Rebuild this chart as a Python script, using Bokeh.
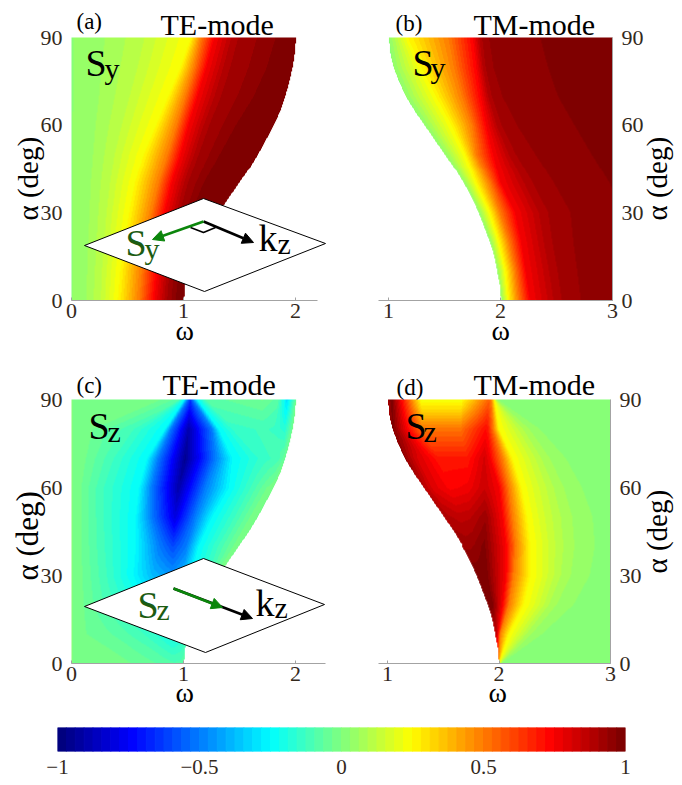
import numpy as np
from bokeh.embed import file_html
from bokeh.layouts import column, row
from bokeh.models import Arrow, FixedTicker, Label, LinearColorMapper, NormalHead, Range1d
from bokeh.plotting import figure
from bokeh.resources import INLINE

ALPHA_ROWS = [0, 10, 20, 30, 40, 50, 60, 70, 80, 90]
EDGE_ALPHA = [0, 5, 10, 15, 20, 25, 30, 35, 40, 45, 50, 55, 60, 65, 70, 75, 80, 85, 90]
TE_EDGE = [1.0, 1.01, 1.04, 1.09, 1.15, 1.23, 1.31, 1.40, 1.49, 1.58, 1.66, 1.73, 1.80, 1.86, 1.905, 1.94, 1.97, 1.99, 2.0]
TM_EDGE = [2.0, 1.99, 1.965, 1.94, 1.90, 1.85, 1.80, 1.74, 1.67, 1.59, 1.50, 1.41, 1.32, 1.23, 1.15, 1.09, 1.04, 1.01, 1.0]

# Panel (a): colour level positions along omega, one row per alpha
A_VALUES = [.03, .06, .12, .25, .5, .75, .9, .99, 1.0]
A_OMEGA = [
    [0, .12, .25, .41, .60, .735, .84, .95, 1.0],
    [0, .13, .26, .43, .62, .76, .86, .98, 1.04],
    [0, .14, .28, .47, .66, .79, .90, 1.02, 1.15],
    [0, .15, .30, .51, .71, .83, .95, 1.1, 1.31],
    [0, .16, .33, .56, .77, .89, 1.02, 1.22, 1.49],
    [0, .18, .37, .64, .85, .97, 1.11, 1.38, 1.66],
    [0, .2, .43, .75, .93, 1.04, 1.2, 1.54, 1.80],
    [0, .23, .5, .86, 1.01, 1.12, 1.3, 1.72, 1.905],
    [0, .25, .57, .97, 1.09, 1.2, 1.38, 1.85, 1.97],
    [0, .28, .63, 1.06, 1.15, 1.27, 1.45, 1.93, 2.0],
]
# Panel (b)
B_VALUES = [.03, .25, .5, .75, .9, .95, .97]
B_OMEGA = [
    [2.0, 2.065, 2.155, 2.26, 2.51, 2.78, 3.4],
    [1.965, 2.04, 2.125, 2.22, 2.47, 2.75, 3.3],
    [1.90, 1.98, 2.07, 2.18, 2.42, 2.72, 3.2],
    [1.80, 1.90, 1.99, 2.125, 2.38, 2.7, 3.1],
    [1.67, 1.78, 1.90, 2.0, 2.25, 2.55, 3.0],
    [1.50, 1.68, 1.78, 1.93, 2.1, 2.38, 2.84],
    [1.32, 1.56, 1.74, 1.87, 1.98, 2.2, 2.69],
    [1.15, 1.42, 1.65, 1.82, 1.9, 2.05, 2.54],
    [1.04, 1.29, 1.58, 1.78, 1.85, 1.96, 2.45],
    [1.0, 1.17, 1.53, 1.75, 1.82, 1.92, 2.38],
]
# Panel (c)
C_OMEGA = [
    [0, .45, .65, .8, .85, .9, .95, 1.0, 1.02, 1.04, 1.06, 1.08, 1.1],
    [0, .12, .4, .62, .8, .9, 1.0, 1.03, 1.06, 1.1, 1.12, 1.14, 1.16],
    [0, .1, .3, .55, .72, .9, 1.02, 1.1, 1.15, 1.2, 1.22, 1.24, 1.26],
    [0, .09, .3, .55, .72, .9, 1.0, 1.06, 1.22, 1.28, 1.31, 1.33, 1.35],
    [0, .08, .28, .57, .78, .9, 1.02, 1.13, 1.31, 1.44, 1.47, 1.5, 1.52],
    [0, .08, .27, .57, .71, .92, 1.10, 1.25, 1.46, 1.59, 1.62, 1.65, 1.68],
    [0, .08, .27, .6, .71, .95, 1.19, 1.4, 1.6, 1.74, 1.77, 1.8, 1.82],
    [0, .12, .36, .67, .77, 1.01, 1.28, 1.43, 1.7, 1.8, 1.85, 1.89, 1.92],
    [0, .18, .54, .83, .88, 1.04, 1.25, 1.31, 1.45, 1.7, 1.8, 1.9, 1.97],
    [0, .75, .95, 1.0, 1.03, 1.055, 1.08, 1.12, 1.2, 1.7, 1.84, 1.92, 2.0],
]
C_VALUES = [
    [0, -.02, -.05, -.07, -.08, -.09, -.09, -.08, -.05, -.02, 0, 0, 0],
    [0, -.03, -.07, -.12, -.18, -.22, -.18, -.1, -.05, -.02, 0, 0, 0],
    [0, -.03, -.1, -.18, -.25, -.35, -.25, -.12, -.05, -.02, 0, 0, 0],
    [0, -.03, -.12, -.25, -.38, -.45, -.38, -.25, -.12, -.03, 0, 0, 0],
    [0, -.03, -.12, -.25, -.5, -.6, -.5, -.25, -.12, -.03, -.01, 0, 0],
    [0, -.03, -.12, -.25, -.5, -.8, -.5, -.25, -.12, -.03, -.02, -.01, 0],
    [0, -.03, -.12, -.25, -.5, -.9, -.5, -.25, -.12, -.03, -.02, -.01, 0],
    [0, -.03, -.12, -.25, -.5, -.95, -.5, -.25, -.14, -.12, -.1, -.05, -.01],
    [0, -.03, -.12, -.25, -.5, -.9, -.5, -.25, -.14, -.12, -.13, -.17, -.02],
    [0, -.02, -.08, -.25, -.5, -.65, -.5, -.25, -.08, -.03, -.08, -.3, -.03],
]
# Panel (d)
D_OMEGA = [
    [1.95, 1.96, 1.97, 1.98, 1.99, 1.995, 1.998, 2.0, 2.005, 2.01, 2.02, 2.03, 3.2],
    [1.96, 1.965, 1.97, 1.975, 1.98, 1.99, 2.01, 2.09, 2.14, 2.2, 2.27, 2.42, 3.2],
    [1.90, 1.91, 1.92, 1.93, 1.95, 2.03, 2.09, 2.22, 2.3, 2.38, 2.48, 2.72, 3.2],
    [1.80, 1.81, 1.83, 1.85, 1.88, 2.06, 2.13, 2.28, 2.37, 2.46, 2.6, 2.87, 3.2],
    [1.67, 1.70, 1.74, 1.78, 1.87, 2.06, 2.15, 2.28, 2.37, 2.47, 2.63, 2.92, 3.2],
    [1.50, 1.55, 1.64, 1.74, 1.88, 2.03, 2.12, 2.25, 2.33, 2.44, 2.61, 2.9, 3.2],
    [1.32, 1.4, 1.55, 1.72, 1.87, 2.0, 2.09, 2.2, 2.28, 2.39, 2.54, 2.8, 3.2],
    [1.15, 1.25, 1.45, 1.72, 1.87, 1.92, 2.03, 2.12, 2.2, 2.3, 2.42, 2.65, 3.2],
    [1.03, 1.05, 1.3, 1.65, 1.88, 1.9, 1.95, 2.0, 2.07, 2.15, 2.25, 2.4, 3.2],
    [1.0, 1.03, 1.3, 1.65, 1.91, 1.92, 1.93, 1.96, 1.965, 1.97, 1.98, 2.0, 3.2],
]
D_VALUES = [
    [.5, .5, .5, .5, .5, .5, .45, .25, .2, .14, .07, .02, 0],
    [.85, .85, .85, .85, .85, .75, .5, .25, .2, .14, .07, .02, 0],
    [1, 1, 1, 1, .97, .75, .5, .25, .2, .14, .07, .02, 0],
    [1, 1, 1, 1, 1, .75, .5, .25, .2, .14, .07, .02, 0],
    [.93, .93, .93, .94, .98, .75, .5, .25, .2, .14, .07, .02, 0],
    [.9, .88, .86, .87, .93, .75, .5, .25, .2, .14, .07, .02, 0],
    [.88, .8, .74, .76, .84, .75, .5, .25, .2, .14, .07, .02, 0],
    [.95, .82, .7, .7, .82, .75, .5, .25, .2, .14, .07, .02, 0],
    [.97, .97, .52, .52, .72, .7, .5, .25, .2, .14, .07, .02, 0],
    [.9, 1, .22, .22, .55, .52, .5, .25, .2, .14, .07, .02, 0],
]
CBAR_TICKS = [-1, -0.5, 0, 0.5, 1]
CBAR_LABELS = ["−1", "−0.5", "0", "0.5", "1"]
OMEGA_TICKS_TE = [0, 1, 2]
OMEGA_TICKS_TM = [1, 2, 3]
ALPHA_TICKS = [0, 30, 60, 90]

SERIF = "Liberation Serif"
INK = "#33291c"
GREY = "#a3a3a3"
TEXT_GREEN = "#1c5c12"
ARROW_GREEN = "#0b860b"


def jet(t):
    c = lambda k: int(255 * np.clip(1.5 - abs(4 * t - k), 0, 1))
    return "#%02x%02x%02x" % (c(3), c(2), c(1))


PALETTE = [jet(i / 63) for i in range(64)]
mapper = LinearColorMapper(palette=PALETTE, low=-1, high=1, nan_color="rgba(0,0,0,0)")


def shade(omega, values, edge, x0, x1, allowed_right):
    """Colour field spanned by the read level positions, masked at the mode's edge."""
    w = np.array(omega, float)
    v = np.array(values, float)
    if v.ndim == 1:
        v = np.tile(v, (w.shape[0], 1))
    xs = np.linspace(x0, x1, int((x1 - x0) * 112) + 1)
    alphas = np.linspace(0, 90, 264)
    z = np.zeros((alphas.size, xs.size))
    for i, a in enumerate(alphas):
        wk = [np.interp(a, ALPHA_ROWS, w[:, k]) for k in range(w.shape[1])]
        vk = [np.interp(a, ALPHA_ROWS, v[:, k]) for k in range(w.shape[1])]
        z[i] = np.interp(xs, wk, vk)
        b = np.interp(a, EDGE_ALPHA, edge)
        z[i][(xs > b) if allowed_right else (xs < b)] = np.nan
    return z


class Panel:
    """A figure whose frame fills its whole canvas, so that texts beyond the axes stay visible."""

    def __init__(self, rect, px_per_omega, omega_px, omega_ref, top, bottom, loc):
        fx, fy, w, h = rect
        self.s = px_per_omega
        self.px0 = omega_px
        self.w0 = omega_ref
        self.T = top
        self.B = bottom
        xr = Range1d(self.at(fx, 0)[0], self.at(fx + w, 0)[0])
        yr = Range1d(self.at(0, fy + h)[1], self.at(0, fy)[1])
        self.p = figure(width=w, height=h, x_range=xr, y_range=yr, output_backend="svg", toolbar_location=None,
                        y_axis_location=loc, outline_line_color=None, background_fill_color=None,
                        border_fill_color=None, min_border=0)
        self.p.grid.visible = False

    def at(self, x, y):
        return self.w0 + (x - self.px0) / self.s, (self.B - y) / (self.B - self.T) * 90

    def text(self, x, y, s, size, color="black", angle=0):
        # the label box sits a third of the font size beyond the requested baseline
        if angle:
            x -= 0.33 * size
        else:
            y -= 0.33 * size
        dx, dy = self.at(x, y)
        self.p.add_layout(Label(x=dx, y=dy, text=s, text_font=SERIF, text_font_size=f"{size}px", text_color=color,
                                text_baseline="alphabetic", text_align="left", angle=angle, angle_units="deg"))

    def symbol(self, x, y, main, sub, sub_dx, sub_dy, color="black"):
        self.text(x, y, main, 38, color)
        self.text(x + sub_dx, y + sub_dy, sub, 30, color)

    def arrow(self, x0, y0, x1, y1, color):
        a, b = self.at(x0, y0)
        c, d = self.at(x1, y1)
        self.p.add_layout(Arrow(end=NormalHead(size=11, fill_color=color, line_color=color),
                                x_start=a, y_start=b, x_end=c, y_end=d, line_color=color, line_width=2.6))

    def inset(self, corners):
        pts = [self.at(*q) for q in corners]
        self.p.patch([q[0] for q in pts], [q[1] for q in pts], fill_color="white", line_color="black", line_width=1)


def style(p, ticks, bounds, y_at, right_axis_line):
    xa = p.xaxis[0]
    ya = p.yaxis[0]
    xa.fixed_location = 0
    ya.fixed_location = y_at
    xa.ticker = FixedTicker(ticks=ticks)
    xa.bounds = bounds
    ya.ticker = FixedTicker(ticks=ALPHA_TICKS)
    ya.bounds = (0, 90)
    xa.axis_line_color = GREY
    xa.major_tick_line_color = GREY
    xa.major_tick_in = 3
    xa.major_tick_out = 0
    xa.minor_tick_line_color = None
    ya.minor_tick_line_color = None
    ya.major_tick_line_color = None
    ya.axis_line_color = GREY if right_axis_line else None
    for ax in (xa, ya):
        ax.major_label_text_font = SERIF
        ax.major_label_text_font_size = "22px"
        ax.major_label_text_color = INK
        ax.major_label_standoff = 3


# ---- panel (a)
a = Panel((0, 0, 341, 363), 112, 71, 0, 37, 300, "left")
a.p.image(image=[shade(A_OMEGA, A_VALUES, TE_EDGE, 0, 2.05, True)], x=0, y=0, dw=2.05, dh=90, color_mapper=mapper)
style(a.p, OMEGA_TICKS_TE, (0, 2.2), 0, False)
a.inset([(84, 245), (203, 198), (325, 243), (204, 291)])
a.p.line(*zip(*[a.at(190, 227), a.at(203, 232), a.at(215, 227)]), line_color="black", line_width=1.6)
a.arrow(203, 221, 253, 242, "black")
a.arrow(203, 221, 152, 239, ARROW_GREEN)
a.symbol(125, 255, "S", "y", 19, 3, TEXT_GREEN)
a.symbol(258, 250, "k", "z", 19, 3)
a.symbol(85, 75, "S", "y", 19, 3)
a.text(76, 29, "(a)", 23)
a.text(160, 34, "TE-mode", 30)
a.text(175, 339, "ω", 28)
a.text(37, 220, "α (deg)", 29, angle=90)

# ---- panel (b)
b = Panel((341, 0, 341, 363), 112, 612, 3, 37, 300, "right")
b.p.image(image=[shade(B_OMEGA, B_VALUES, TM_EDGE, .95, 3, False)], x=.95, y=0, dw=2.05, dh=90, color_mapper=mapper)
style(b.p, OMEGA_TICKS_TM, (b.at(378, 0)[0], 3), 3, True)
b.symbol(412, 75, "S", "y", 18, 2)
b.text(395, 31, "(b)", 23)
b.text(473, 34, "TM-mode", 30)
b.text(491, 339, "ω", 28)
b.text(666, 220, "α (deg)", 29, angle=90)

# ---- panel (c)
c = Panel((0, 363, 341, 360), 112, 71, 0, 399, 663, "left")
c.p.image(image=[shade(C_OMEGA, C_VALUES, TE_EDGE, 0, 2.05, True)], x=0, y=0, dw=2.05, dh=90, color_mapper=mapper)
style(c.p, OMEGA_TICKS_TE, (0, 2.27), 0, False)
c.inset([(84, 606), (203, 558), (324, 604), (205, 652)])
c.arrow(173, 588, 252, 618, "black")
c.arrow(173, 588, 222, 607, ARROW_GREEN)
c.symbol(137, 617, "S", "z", 19, 2, TEXT_GREEN)
c.symbol(255, 615, "k", "z", 19, 2)
c.symbol(88, 438, "S", "z", 19, 3)
c.text(76, 393, "(c)", 23)
c.text(162, 394, "TE-mode", 30)
c.text(175, 701, "ω", 28)
c.text(37, 580, "α (deg)", 31, angle=90)

# ---- panel (d)
d = Panel((341, 363, 341, 360), 111.5, 610, 3, 399, 663, "right")
d.p.image(image=[shade(D_OMEGA, D_VALUES, TM_EDGE, .95, 3, False)], x=.95, y=0, dw=2.05, dh=90, color_mapper=mapper)
style(d.p, OMEGA_TICKS_TM, (d.at(378, 0)[0], 3), 3, True)
d.symbol(405, 438, "S", "z", 18, 3)
d.text(396, 395, "(d)", 23)
d.text(473, 394, "TM-mode", 30)
d.text(488, 701, "ω", 28)
d.text(666, 573, "α (deg)", 29, angle=90)

# ---- colour bar
edges = np.linspace(-1, 1, len(PALETTE) + 1)
cb = figure(width=682, height=60, x_range=Range1d(-1, 1), y_range=Range1d(0, 1), output_backend="svg",
            toolbar_location=None, outline_line_color=None, y_axis_location=None,
            min_border_left=57, min_border_right=57, min_border_top=4, min_border_bottom=32)
cb.grid.visible = False
cb.quad(left=edges[:-1], right=edges[1:], bottom=0, top=1, fill_color=PALETTE, line_color=PALETTE)
ax = cb.xaxis[0]
ax.ticker = FixedTicker(ticks=CBAR_TICKS)
ax.major_label_overrides = dict(zip(CBAR_TICKS, CBAR_LABELS))
ax.axis_line_color = None
ax.major_tick_line_color = None
ax.minor_tick_line_color = None
ax.major_label_text_font = SERIF
ax.major_label_text_font_size = "21px"
ax.major_label_text_color = INK
ax.major_label_standoff = 2

page = column(row(a.p, b.p, spacing=0), row(c.p, d.p, spacing=0), cb, spacing=0)
open("out.html", "w").write(file_html(page, INLINE))
